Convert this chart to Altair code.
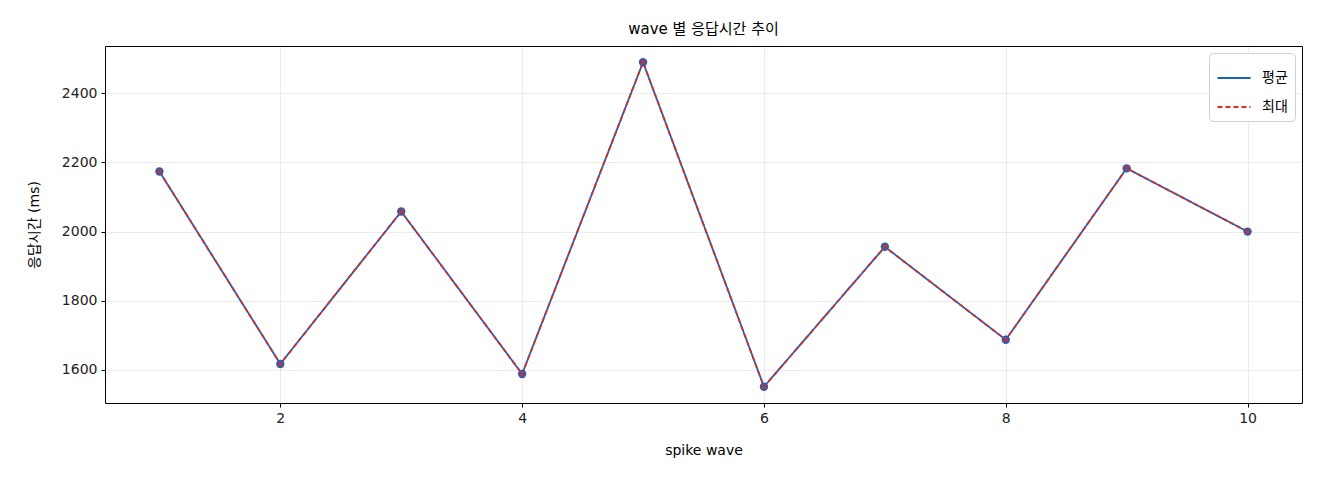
import altair as alt
import pandas as pd

waves = [1, 2, 3, 4, 5, 6, 7, 8, 9, 10]
avg_ms = [2174, 1617, 2058, 1588, 2490, 1551, 1956, 1687, 2183, 2000]
max_ms = [2174, 1617, 2058, 1588, 2490, 1551, 1956, 1687, 2183, 2000]
series_names = ["평균", "최대"]
colors = ["#1565C0", "#D32F2F"]

rows = []
for w, a, m in zip(waves, avg_ms, max_ms):
    rows.append({"wave": w, "ms": a, "series": series_names[0]})
    rows.append({"wave": w, "ms": m, "series": series_names[1]})
df = pd.DataFrame(rows)

FONT = "DejaVu Sans, Noto Sans CJK KR"

x = alt.X("wave:Q", title="spike wave",
          scale=alt.Scale(domain=[0.55, 10.45], nice=False, zero=False),
          axis=alt.Axis(values=[2, 4, 6, 8, 10], format="d"))
y = alt.Y("ms:Q", title="응답시간 (ms)",
          scale=alt.Scale(domain=[1504, 2537], nice=False, zero=False),
          axis=alt.Axis(values=[1600, 1800, 2000, 2200, 2400], format="d"))

legend = alt.Legend(title=None, orient="top-right", symbolType="stroke",
                    symbolStrokeWidth=2, symbolSize=1100, offset=7)
color = alt.Color("series:N", scale=alt.Scale(domain=series_names, range=colors),
                  sort=series_names, legend=legend)
dash = alt.StrokeDash("series:N", scale=alt.Scale(domain=series_names, range=[[1, 0], [5, 3]]),
                      sort=series_names, legend=legend)

lines = alt.Chart(df).mark_line(strokeWidth=1.8).encode(x=x, y=y, color=color, strokeDash=dash,
                                                        order="series:N")

pts_avg = alt.Chart(df).transform_filter(alt.datum.series == series_names[0]).mark_point(
    shape="circle", filled=True, size=70, opacity=1, color=colors[0]).encode(x=x, y=y)
pts_max = alt.Chart(df).transform_filter(alt.datum.series == series_names[1]).mark_point(
    shape="M-1,-1L1,1M-1,1L1,-1", filled=False, size=30, strokeWidth=1.5, opacity=1,
    color=colors[1]).encode(x=x, y=y)

chart = alt.layer(lines, pts_avg, pts_max).properties(
    width=1197, height=357,
    title=alt.Title("wave 별 응답시간 추이", fontSize=15, fontWeight="normal", font=FONT,
                    offset=9, color="#000"),
    autosize=alt.AutoSizeParams(type="none"),
    padding={"left": 97, "top": 38, "right": 10, "bottom": 60},
).configure_view(stroke="#000", strokeWidth=1).configure_axis(
    labelFont=FONT, titleFont=FONT, labelFontSize=14, titleFontSize=14,
    labelColor="#222", titleColor="#000", titleFontWeight="normal",
    grid=True, gridColor="#b0b0b0", gridOpacity=0.3, gridWidth=0.8,
    domain=False, tickColor="#000", tickSize=4, labelPadding=4,
).configure_axisX(titlePadding=18).configure_axisY(titlePadding=20).configure_legend(
    labelFont=FONT, labelFontSize=14, labelColor="#000",
    strokeColor="#d0d0d0", fillColor="#ffffff", padding=7, cornerRadius=4,
    rowPadding=4, labelOffset=10,
)

chart.save("out.html", embed_options={"renderer": "svg", "actions": False})
